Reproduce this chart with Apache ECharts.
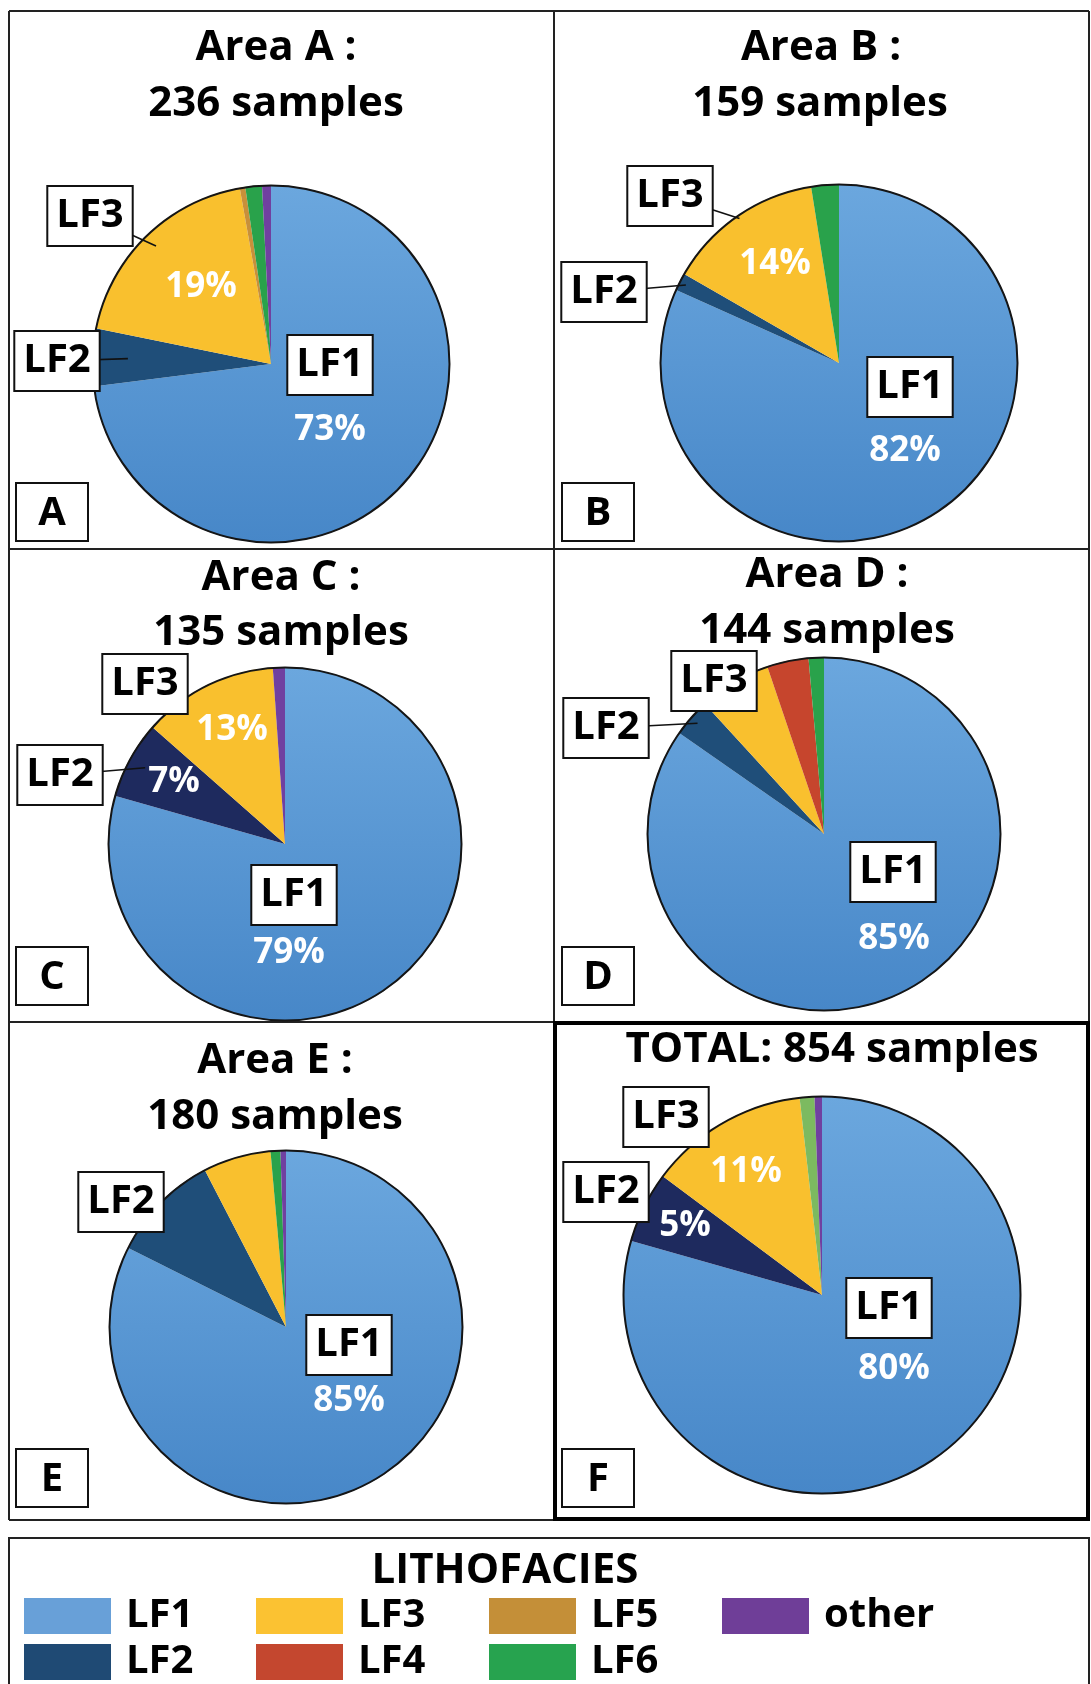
<!DOCTYPE html>
<html><head><meta charset="utf-8">
<script src="https://cdn.jsdelivr.net/npm/echarts@6/dist/echarts.min.js"></script>
<style>html,body{margin:0;padding:0;background:#fff}#c{width:1091px;height:1684px}</style>
</head><body><div id="c"></div>
<script>
// ---------- DATA ----------
const categories = ['LF1', 'LF2', 'LF3', 'LF4', 'LF5', 'LF6', 'other'];
const areaTitles = ['Area A :', 'Area B :', 'Area C :', 'Area D :', 'Area E :', 'TOTAL:'];
const sampleCounts = [236, 159, 135, 144, 180, 854];
const panelLetters = ['A', 'B', 'C', 'D', 'E', 'F'];
const areaA     = [73.0, 5.2, 19.0, 0,   0.5, 1.5, 0.8];
const areaB     = [81.7, 1.6, 14.2, 0,   0,   2.5, 0];
const areaC     = [79.4, 7.1, 12.4, 0,   0,   0,   1.1];
const areaD     = [84.7, 3.5, 6.6,  3.8, 0,   1.4, 0];
const areaE     = [82.4, 10.0, 6.2, 0,   0,   0.9, 0.5];
const areaTotal = [79.4, 5.8, 13.0, 0,   0,   1.2, 0.6];
// printed percentage labels
const pctA     = ['73%', '',   '19%', '', '', '', ''];
const pctB     = ['82%', '',   '14%', '', '', '', ''];
const pctC     = ['79%', '7%', '13%', '', '', '', ''];
const pctD     = ['85%', '',   '',    '', '', '', ''];
const pctE     = ['85%', '',   '',    '', '', '', ''];
const pctTotal = ['80%', '5%', '11%', '', '', '', ''];
// boxed name labels shown on each pie
const boxA = ['LF1', 'LF2', 'LF3'];
const boxB = ['LF1', 'LF2', 'LF3'];
const boxC = ['LF1', 'LF2', 'LF3'];
const boxD = ['LF1', 'LF2', 'LF3'];
const boxE = ['LF1', 'LF2'];
const boxTotal = ['LF1', 'LF2', 'LF3'];
const legendTitle = 'LITHOFACIES';
const legendColumns = [['LF1', 'LF2'], ['LF3', 'LF4'], ['LF5', 'LF6'], ['other']];

const areaValues = [areaA, areaB, areaC, areaD, areaE, areaTotal];
const pctLabels = [pctA, pctB, pctC, pctD, pctE, pctTotal];
const boxLabels = [boxA, boxB, boxC, boxD, boxE, boxTotal];

// ---------- STYLE / LAYOUT ----------
const FONT = '"Open Sans", "Liberation Sans", sans-serif';
const LF1grad = {type: 'linear', x: 0, y: 0, x2: 0, y2: 1,
  colorStops: [{offset: 0, color: '#6ba7de'}, {offset: 1, color: '#4787c8'}]};
const baseColors = {LF1: LF1grad, LF2: '#1f4e79', LF3: '#f9c02e', LF4: '#c6452d',
  LF5: '#c8903a', LF6: '#29a24b', other: '#7040a0'};
const legendColors = {LF1: '#68a0d8', LF2: '#1f4a74', LF3: '#fbc232', LF4: '#c4472f',
  LF5: '#c48f38', LF6: '#27a34f', other: '#6f3e98'};
const colorOverrides = [{}, {}, {LF2: '#1e2a5e'}, {}, {}, {LF2: '#1e2a5e', LF6: '#7cba60'}];

const geo = [
  {c: [271, 364], r: 179, title: [[276, 48], [276, 104]], letter: [16, 483],
   box: {LF1: [330, 365], LF2: [57, 361], LF3: [90, 216]},
   pct: {LF1: [330, 430], LF3: [201, 287]}, lead: {LF3: 0.92, LF2: 0.8}},
  {c: [839, 363], r: 179, title: [[821, 48], [820, 104]], letter: [562, 483],
   box: {LF1: [910, 387], LF2: [604, 292], LF3: [670, 196]},
   pct: {LF1: [905, 451], LF3: [775, 264]}, lead: {LF3: 0.98, LF2: 0.96}},
  {c: [285, 844], r: 177, title: [[281, 578], [281, 633]], letter: [16, 947],
   box: {LF1: [294, 895], LF2: [60, 775], LF3: [145, 684]},
   pct: {LF1: [289, 953], LF2: [174, 782], LF3: [232, 730]}, lead: {LF2: 0.9}},
  {c: [824, 834], r: 177, title: [[827, 575], [827, 631]], letter: [562, 947],
   box: {LF1: [893, 872], LF2: [606, 728], LF3: [714, 681]},
   pct: {LF1: [894, 939]}, lead: {LF2: 0.95}},
  {c: [286, 1327], r: 177, title: [[275, 1061], [275, 1117]], letter: [16, 1449],
   box: {LF1: [349, 1345], LF2: [121, 1202]},
   pct: {LF1: [349, 1401]}, lead: {}},
  {c: [822, 1295], r: 199, title: [[832, 1050]], letter: [562, 1449],
   box: {LF1: [889, 1308], LF2: [606, 1192], LF3: [666, 1117]},
   pct: {LF1: [894, 1369], LF2: [685, 1226], LF3: [746, 1172]}, lead: {}}
];

// ---------- BUILD ----------
const series = [];
const ringSeries = [];
const labelSeries = [];
const graphics = [];

function midAngle(vals, idx) {
  let total = 0, cum = 0;
  vals.forEach((v, j) => { total += v; if (j < idx) cum += v; });
  return 2 * Math.PI * (cum + vals[idx] / 2) / total;
}

areaValues.forEach((vals, p) => {
  const g = geo[p];
  const items = [];
  categories.forEach((cat, i) => {
    if (vals[i] > 0) items.push({cat, i});
  });
  const colorOf = cat => (colorOverrides[p][cat] || baseColors[cat]);

  // visible pie with percentage labels
  series.push({
    type: 'pie', z: 2, center: g.c, radius: [0, g.r], startAngle: 90, clockwise: true,
    avoidLabelOverlap: false, silent: true, animation: false,
    itemStyle: {borderWidth: 0},
    emphasis: {disabled: true},
    label: {show: true, position: 'inside', color: '#fff', fontSize: 35, fontWeight: 'bold',
      fontFamily: FONT, formatter: prm => pctLabels[p][categories.indexOf(prm.name)]},
    labelLine: {show: false},
    data: items.map(it => ({name: it.cat, value: vals[it.i], itemStyle: {color: colorOf(it.cat)},
      label: {show: !!pctLabels[p][it.i]}})),
    labelLayout: prm => {
      const it = items[prm.dataIndex];
      const pos = it && g.pct[it.cat];
      if (!pos) return {};
      return {x: pos[0], y: pos[1], align: 'center', verticalAlign: 'middle'};
    }
  });

  // black outline ring
  ringSeries.push({
    type: 'pie', z: 3, center: g.c, radius: [g.r - 1.5, g.r + 0.5], silent: true, animation: false,
    label: {show: false}, labelLine: {show: false}, emphasis: {disabled: true},
    itemStyle: {borderWidth: 0},
    data: [{name: '_outline' + p, value: 1, itemStyle: {color: '#151515'}}]
  });

  // boxed name labels (transparent slices)
  labelSeries.push({
    type: 'pie', z: 6, center: g.c, radius: [0, g.r], startAngle: 90, clockwise: true,
    avoidLabelOverlap: false, silent: true, animation: false,
    itemStyle: {color: 'rgba(0,0,0,0)', borderWidth: 0},
    emphasis: {disabled: true},
    label: {show: true, position: 'inside', formatter: '{b}', color: '#000', fontSize: 40,
      fontWeight: 'bold', fontFamily: FONT, backgroundColor: '#fff', borderColor: '#111',
      borderWidth: 2, padding: [6, 8, 4, 8], lineHeight: 48},
    labelLine: {show: false},
    data: items.map(it => ({name: it.cat, value: vals[it.i],
      label: {show: boxLabels[p].indexOf(it.cat) >= 0}})),
    labelLayout: prm => {
      const it = items[prm.dataIndex];
      const pos = it && g.box[it.cat];
      if (!pos) return {};
      return {x: pos[0], y: pos[1], align: 'center', verticalAlign: 'middle'};
    }
  });

  // leader lines
  Object.keys(g.lead).forEach(cat => {
    const i = categories.indexOf(cat);
    const a = midAngle(vals, i);
    const k = g.lead[cat];
    const b = g.box[cat];
    graphics.push({type: 'polyline', z: 5, silent: true,
      shape: {points: [[b[0], b[1]], [g.c[0] + k * g.r * Math.sin(a), g.c[1] - k * g.r * Math.cos(a)]]},
      style: {stroke: '#111', lineWidth: 1.6, fill: null}});
  });

  // titles
  const lines = p < 5 ? [areaTitles[p], sampleCounts[p] + ' samples']
                      : [areaTitles[p] + ' ' + sampleCounts[p] + ' samples'];
  lines.forEach((t, j) => {
    graphics.push({type: 'text', z: 7, silent: true, x: g.title[j][0], y: g.title[j][1],
      style: {text: t, font: 'bold 42px ' + FONT, fill: '#000', align: 'center', verticalAlign: 'middle',
        textAlign: 'center', textVerticalAlign: 'middle'}});
  });

  // panel letter box
  graphics.push({type: 'rect', z: 7, silent: true,
    shape: {x: g.letter[0], y: g.letter[1], width: 72, height: 58},
    style: {fill: '#fff', stroke: '#111', lineWidth: 2}});
  graphics.push({type: 'text', z: 8, silent: true, x: g.letter[0] + 36, y: g.letter[1] + 31,
    style: {text: panelLetters[p], font: 'bold 40px ' + FONT, fill: '#000', align: 'center',
      verticalAlign: 'middle', textAlign: 'center', textVerticalAlign: 'middle'}});
});

// panel frame lines
const frameLines = [
  [9, 11, 1089, 11], [9, 549, 1089, 549], [9, 1022, 554, 1022], [9, 1520, 554, 1520],
  [9, 11, 9, 1520], [554, 11, 554, 1022], [1089, 11, 1089, 1022]
];
frameLines.forEach(l => graphics.push({type: 'line', z: 1, silent: true,
  shape: {x1: l[0], y1: l[1], x2: l[2], y2: l[3]}, style: {stroke: '#222', lineWidth: 2}}));
graphics.push({type: 'rect', z: 1, silent: true, shape: {x: 555, y: 1023, width: 533, height: 496},
  style: {fill: 'none', stroke: '#000', lineWidth: 4}});
// legend frame and title
graphics.push({type: 'rect', z: 1, silent: true, shape: {x: 9, y: 1538, width: 1080, height: 170},
  style: {fill: 'none', stroke: '#222', lineWidth: 2}});
graphics.push({type: 'text', z: 7, silent: true, x: 505, y: 1571,
  style: {text: legendTitle, font: 'bold 42px ' + FONT, fill: '#000', align: 'center',
    verticalAlign: 'middle', textAlign: 'center', textVerticalAlign: 'middle'}});

const legendLefts = [24, 256, 489, 722];
const legends = legendColumns.map((col, j) => ({
  orient: 'vertical', left: legendLefts[j], top: 1596, padding: 0,
  itemWidth: 87, itemHeight: 36, itemGap: 6, icon: 'rect', selectedMode: false,
  textStyle: {fontSize: 40, fontWeight: 'bold', fontFamily: FONT, color: '#000', padding: [0, 0, 0, 10]},
  data: col.map(n => ({name: n, itemStyle: {color: legendColors[n], borderWidth: 0}}))
}));

const chart = echarts.init(document.getElementById('c'), null, {renderer: 'canvas'});
chart.setOption({
  backgroundColor: '#fff',
  animation: false,
  legend: legends,
  graphic: {elements: graphics},
  series: series.concat(ringSeries, labelSeries)
});
</script></body></html>
